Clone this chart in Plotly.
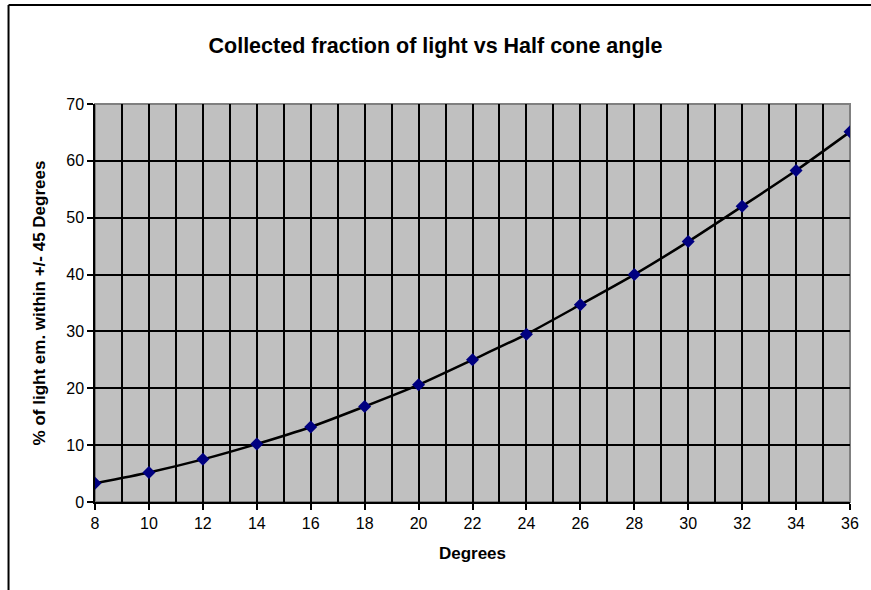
import plotly.graph_objects as go

degrees = [8, 10, 12, 14, 16, 18, 20, 22, 24, 26, 28, 30, 32, 34, 36]
percent = [3.3, 5.2, 7.5, 10.2, 13.2, 16.8, 20.6, 25.0, 29.5, 34.7, 40.0, 45.8, 52.0, 58.3, 65.1]
x_ticks = list(range(8, 37, 2))
y_ticks = list(range(0, 71, 10))

title_text = "Collected fraction of light vs Half cone angle"
x_title = "Degrees"
y_title = "% of light em. within +/- 45 Degrees"

FONT = "Liberation Sans, Arial, sans-serif"

L, R, T, B = 95, 12, 104, 88
W, H = 871, 590

fig = go.Figure()
fig.add_trace(go.Scatter(
    x=degrees, y=percent, mode="lines",
    line=dict(color="black", width=2.5, shape="spline", smoothing=0.6),
    hoverinfo="skip", showlegend=False,
))
fig.add_trace(go.Scatter(
    x=degrees, y=percent, mode="markers",
    marker=dict(symbol="diamond", size=10, color="#000080"),
    showlegend=False,
))

fig.update_layout(
    width=W, height=H,
    margin=dict(l=L, r=R, t=T, b=B),
    paper_bgcolor="white",
    plot_bgcolor="#C0C0C0",
    font=dict(family=FONT, size=16, color="black"),
    title=dict(text=title_text, x=0.5, xref="container", xanchor="center",
               y=1 - 45 / H, yref="container", yanchor="middle",
               font=dict(family=FONT, size=21.5, color="black", weight="bold")),
    xaxis=dict(
        range=[8, 36], tickvals=x_ticks, ticktext=[str(v) for v in x_ticks],
        showgrid=True, gridcolor="black", gridwidth=1.5,
        minor=dict(dtick=1, tick0=8, showgrid=True, gridcolor="black", gridwidth=1.5, ticks=""),
        ticks="outside", ticklen=6, tickcolor="black", tickwidth=1.5,
        showline=True, linecolor="black", linewidth=1.5,
        zeroline=False,
        title=dict(text=x_title, standoff=16, font=dict(family=FONT, size=17, weight="bold")),
    ),
    yaxis=dict(
        range=[0, 70], tickvals=y_ticks,
        showgrid=True, gridcolor="black", gridwidth=1.5,
        ticks="outside", ticklen=6, tickcolor="black", tickwidth=1.5,
        showline=True, linecolor="black", linewidth=1.5,
        zeroline=False,
        title=dict(text=y_title, standoff=16, font=dict(family=FONT, size=17, weight="bold")),
    ),
)

# plot-area border (grey)
fig.add_shape(type="rect", xref="paper", yref="paper", x0=0, y0=0, x1=1, y1=1,
              line=dict(color="#808080", width=2), layer="below")
# chart-area frame visible on top and left
pw = W - L - R
ph = H - T - B
fl = (7.5 - L) / pw
ft = (H - B - 5) / ph
fig.add_shape(type="line", xref="paper", yref="paper", x0=fl, x1=fl, y0=ft, y1=-1,
              line=dict(color="black", width=2))
fig.add_shape(type="line", xref="paper", yref="paper", x0=fl, x1=1.2, y0=ft, y1=ft,
              line=dict(color="black", width=2))

fig.write_html("out.html", config={"displayModeBar": False},
               post_script="document.body.style.margin='0';document.body.style.overflow='hidden';")
